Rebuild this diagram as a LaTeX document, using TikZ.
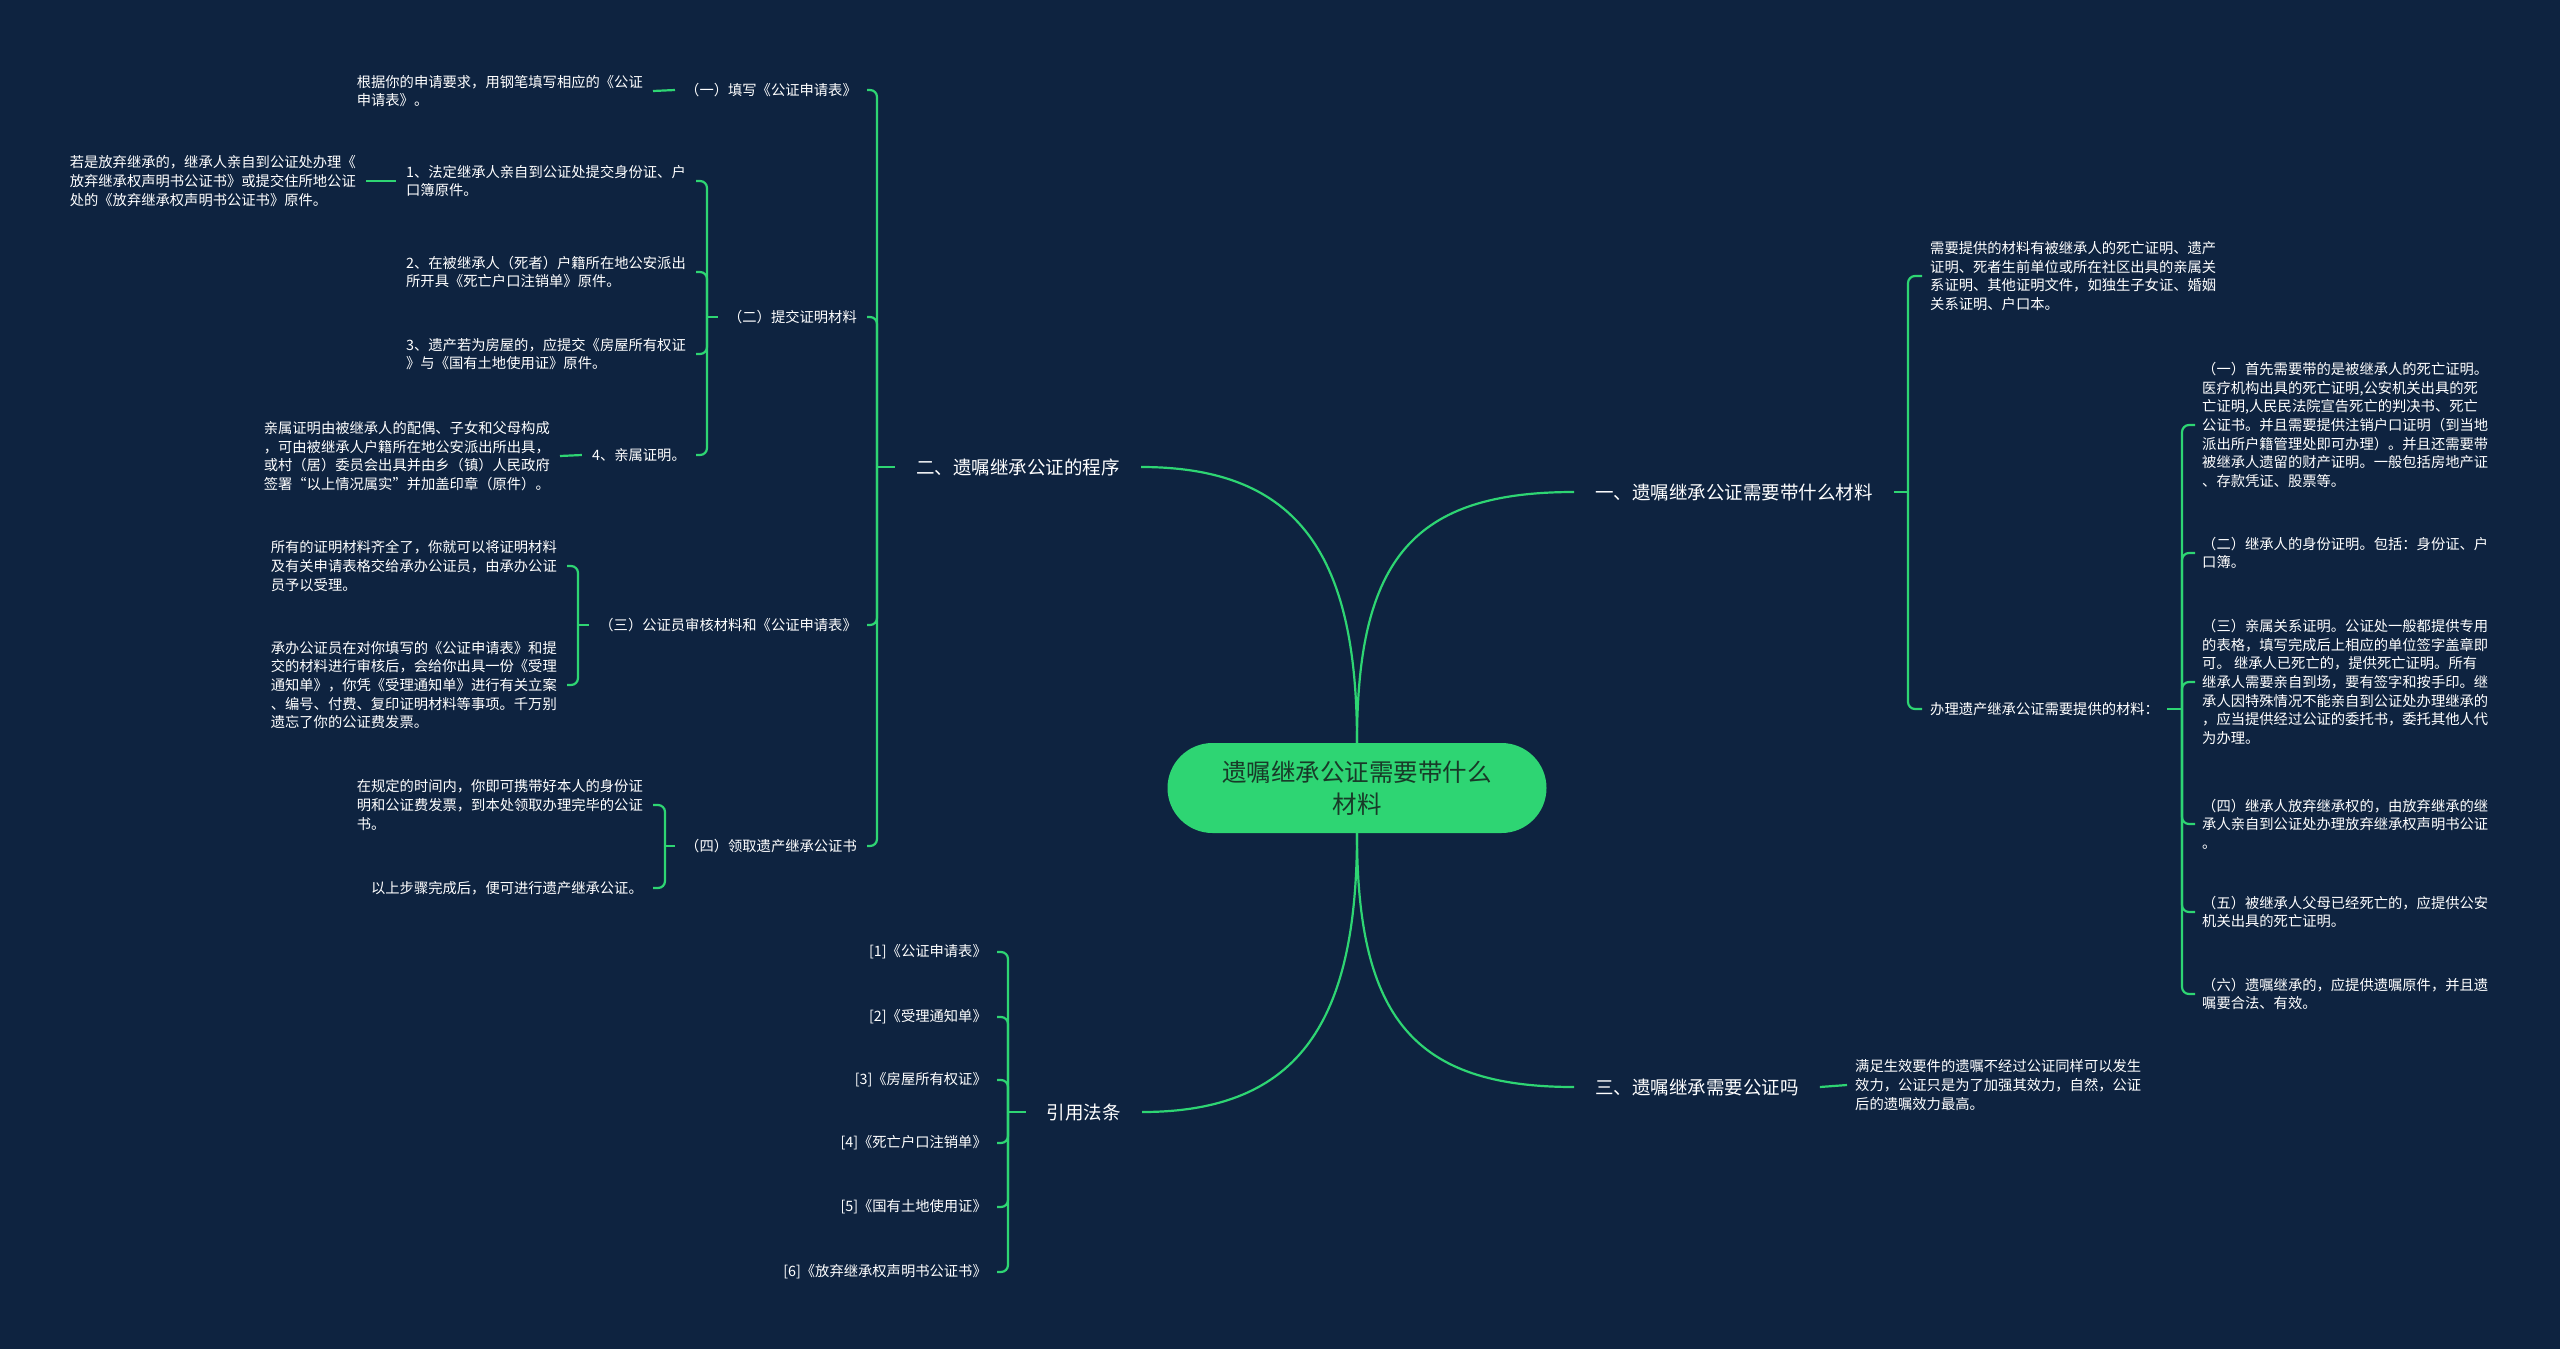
\documentclass[tikz,border=0pt]{standalone}
\usepackage{fontspec}
\newfontfamily\cjk{Noto Sans CJK SC}
\definecolor{bg}{RGB}{14,35,64}
\definecolor{lg}{RGB}{46,213,115}
\definecolor{rootText}{RGB}{24,58,40}
\begin{document}
\begin{tikzpicture}[x=1pt,y=-1pt,
  conn/.style={draw=lg,line width=2.2pt},
  hook/.style={conn,rounded corners=7pt},
  txt/.style={text=white,inner ysep=0pt,inner xsep=10pt,align=left,font=\cjk\fontsize{14.3pt}{18.6pt}\selectfont},
  branch/.style={text=white,inner ysep=0pt,inner xsep=21pt,font=\cjk\fontsize{18.5pt}{24pt}\selectfont},
  rootnode/.style={fill=lg,rounded corners=45pt,minimum width=379pt,minimum height=90pt,align=center,text=rootText,inner sep=0pt,font=\cjk\fontsize{24.5pt}{32pt}\selectfont}]
\fill[bg] (0,0) rectangle (2560,1349);
\useasboundingbox (0,0) rectangle (2560,1349);

% root
\node[rootnode] (root) at (1357,788) {遗嘱继承公证需要带什么\\材料};

% branches
\node[branch,anchor=east] (b2) at (1141,467) {二、遗嘱继承公证的程序};
\node[branch,anchor=west] (b1) at (1574,492) {一、遗嘱继承公证需要带什么材料};
\node[branch,anchor=west] (b3) at (1574,1087) {三、遗嘱继承需要公证吗};
\node[branch,anchor=east] (b4) at (1142,1112) {引用法条};

% junctions
\coordinate (J2) at (877,467);
\coordinate (J22) at (707,317);
\coordinate (J23) at (578,625);
\coordinate (J24) at (665,846);
\coordinate (J4) at (1008,1112);
\coordinate (J1) at (1908,492);
\coordinate (J5) at (2182,709);

% left branch
\node[txt,anchor=east] (s21) at (867,90) {（一）填写《公证申请表》};
\node[txt,anchor=east] (L211) at (653,91) {根据你的申请要求，用钢笔填写相应的《公证\\申请表》。};
\node[txt,anchor=east] (s22) at (867,317) {（二）提交证明材料};
\node[txt,anchor=east] (L221) at (696,181) {1、法定继承人亲自到公证处提交身份证、户\\口簿原件。};
\node[txt,anchor=east] (L2211) at (366,181) {若是放弃继承的，继承人亲自到公证处办理《\\放弃继承权声明书公证书》或提交住所地公证\\处的《放弃继承权声明书公证书》原件。};
\node[txt,anchor=east] (L222) at (696,272) {2、在被继承人（死者）户籍所在地公安派出\\所开具《死亡户口注销单》原件。};
\node[txt,anchor=east] (L223) at (696,354) {3、遗产若为房屋的，应提交《房屋所有权证\\》与《国有土地使用证》原件。};
\node[txt,anchor=east] (L224) at (696,455) {4、亲属证明。};
\node[txt,anchor=east] (L2241) at (560,456) {亲属证明由被继承人的配偶、子女和父母构成\\，可由被继承人户籍所在地公安派出所出具，\\或村（居）委员会出具并由乡（镇）人民政府\\签署“以上情况属实”并加盖印章（原件）。};
\node[txt,anchor=east] (s23) at (867,625) {（三）公证员审核材料和《公证申请表》};
\node[txt,anchor=east] (L231) at (567,566) {所有的证明材料齐全了，你就可以将证明材料\\及有关申请表格交给承办公证员，由承办公证\\员予以受理。};
\node[txt,anchor=east] (L232) at (567,685) {承办公证员在对你填写的《公证申请表》和提\\交的材料进行审核后，会给你出具一份《受理\\通知单》，你凭《受理通知单》进行有关立案\\、编号、付费、复印证明材料等事项。千万别\\遗忘了你的公证费发票。};
\node[txt,anchor=east] (s24) at (867,846) {（四）领取遗产继承公证书};
\node[txt,anchor=east] (L241) at (653,805) {在规定的时间内，你即可携带好本人的身份证\\明和公证费发票，到本处领取办理完毕的公证\\书。};
\node[txt,anchor=east] (L242) at (653,888) {以上步骤完成后，便可进行遗产继承公证。};

% citations
\node[txt,anchor=east] (c1) at (997,952) {[1]《公证申请表》};
\node[txt,anchor=east] (c2) at (997,1017) {[2]《受理通知单》};
\node[txt,anchor=east] (c3) at (997,1080) {[3]《房屋所有权证》};
\node[txt,anchor=east] (c4) at (997,1143) {[4]《死亡户口注销单》};
\node[txt,anchor=east] (c5) at (997,1207) {[5]《国有土地使用证》};
\node[txt,anchor=east] (c6) at (997,1272) {[6]《放弃继承权声明书公证书》};

% right branch
\node[txt,anchor=west,inner xsep=8pt] (r1) at (1922,276) {需要提供的材料有被继承人的死亡证明、遗产\\证明、死者生前单位或所在社区出具的亲属关\\系证明、其他证明文件，如独生子女证、婚姻\\关系证明、户口本。};
\node[txt,anchor=west,inner xsep=8pt] (r2) at (1922,709) {办理遗产继承公证需要提供的材料：};
\node[txt,anchor=west,inner xsep=7pt] (r21) at (2195,425) {（一）首先需要带的是被继承人的死亡证明。\\医疗机构出具的死亡证明,公安机关出具的死\\亡证明,人民民法院宣告死亡的判决书、死亡\\公证书。并且需要提供注销户口证明（到当地\\派出所户籍管理处即可办理）。并且还需要带\\被继承人遗留的财产证明。一般包括房地产证\\、存款凭证、股票等。};
\node[txt,anchor=west,inner xsep=7pt] (r22) at (2195,553) {（二）继承人的身份证明。包括：身份证、户\\口簿。};
\node[txt,anchor=west,inner xsep=7pt] (r23) at (2195,682) {（三）亲属关系证明。公证处一般都提供专用\\的表格，填写完成后上相应的单位签字盖章即\\可。 继承人已死亡的，提供死亡证明。所有\\继承人需要亲自到场，要有签字和按手印。继\\承人因特殊情况不能亲自到公证处办理继承的\\，应当提供经过公证的委托书，委托其他人代\\为办理。};
\node[txt,anchor=west,inner xsep=7pt] (r24) at (2195,824) {（四）继承人放弃继承权的，由放弃继承的继\\承人亲自到公证处办理放弃继承权声明书公证\\。};
\node[txt,anchor=west,inner xsep=7pt] (r25) at (2195,912) {（五）被继承人父母已经死亡的，应提供公安\\机关出具的死亡证明。};
\node[txt,anchor=west,inner xsep=7pt] (r26) at (2195,994) {（六）遗嘱继承的，应提供遗嘱原件，并且遗\\嘱要合法、有效。};
\node[txt,anchor=west,inner xsep=8pt] (r3) at (1847,1085) {满足生效要件的遗嘱不经过公证同样可以发生\\效力，公证只是为了加强其效力，自然，公证\\后的遗嘱效力最高。};

% root connectors
\draw[conn] (root.north) .. controls +(0,-185) and +(160,0) .. (b2.east);
\draw[conn] (root.north) .. controls +(0,-185) and +(-160,0) .. (b1.west);
\draw[conn] (root.south) .. controls +(0,185) and +(160,0) .. (b4.east);
\draw[conn] (root.south) .. controls +(0,185) and +(-160,0) .. (b3.west);

% branch 二
\draw[conn] (J2) -- (b2.west);
\foreach \n in {s21,s22,s23,s24} \draw[hook] (J2) |- (\n.east);
\draw[conn] (s21.west) -- (L211.east);
\draw[conn] (J22) -- (s22.west);
\foreach \n in {L221,L222,L223,L224} \draw[hook] (J22) |- (\n.east);
\draw[conn] (L221.west) -- (L2211.east);
\draw[conn] (L224.west) -- (L2241.east);
\draw[conn] (J23) -- (s23.west);
\foreach \n in {L231,L232} \draw[hook] (J23) |- (\n.east);
\draw[conn] (J24) -- (s24.west);
\foreach \n in {L241,L242} \draw[hook] (J24) |- (\n.east);

% citations
\draw[conn] (J4) -- (b4.west);
\foreach \n in {c1,c2,c3,c4,c5,c6} \draw[hook] (J4) |- (\n.east);

% branch 一
\draw[conn] (b1.east) -- (J1);
\foreach \n in {r1,r2} \draw[hook] (J1) |- (\n.west);
\draw[conn] (r2.east) -- (J5);
\foreach \n in {r21,r22,r23,r24,r25,r26} \draw[hook] (J5) |- (\n.west);

% branch 三
\draw[conn] (b3.east) -- (r3.west);
\end{tikzpicture}
\end{document}
